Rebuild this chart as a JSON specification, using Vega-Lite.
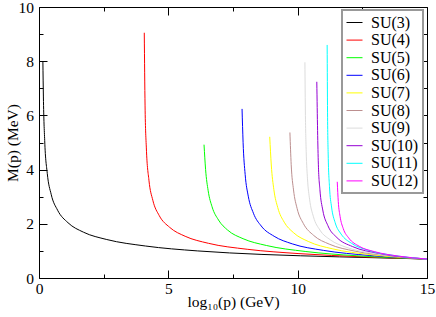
{
  "$schema": "https://vega.github.io/schema/vega-lite/v6.json",
  "width": 388,
  "height": 271,
  "autosize": {"type": "none"},
  "padding": {"left": 39, "top": 7, "right": 9, "bottom": 39},
  "background": "white",
  "config": {
    "view": {"stroke": "black", "strokeWidth": 1},
    "axis": {
      "domain": false,
      "grid": false,
      "labelFont": "Liberation Serif",
      "labelFontSize": 15.5,
      "labelColor": "black",
      "titleFont": "Liberation Serif",
      "titleFontSize": 15.5,
      "titleFontWeight": "normal",
      "titleColor": "black",
      "tickColor": "black",
      "tickWidth": 1,
      "labelFlush": false,
      "labelOverlap": false
    },
    "legend": {
      "labelFont": "Liberation Serif",
      "labelFontSize": 16,
      "labelColor": "black",
      "strokeWidth": 2
    }
  },
  "data": {
    "values": [
      {"s": "SU(3)", "x": 0.15, "y": 8.0},
      {"s": "SU(3)", "x": 0.17, "y": 6.68},
      {"s": "SU(3)", "x": 0.22, "y": 5.08},
      {"s": "SU(3)", "x": 0.32, "y": 3.86},
      {"s": "SU(3)", "x": 0.47, "y": 3.09},
      {"s": "SU(3)", "x": 0.72, "y": 2.5},
      {"s": "SU(3)", "x": 1.12, "y": 2.04},
      {"s": "SU(3)", "x": 1.72, "y": 1.69},
      {"s": "SU(3)", "x": 2.62, "y": 1.42},
      {"s": "SU(3)", "x": 4.12, "y": 1.18},
      {"s": "SU(3)", "x": 6.12, "y": 1.0},
      {"s": "SU(3)", "x": 8.62, "y": 0.87},
      {"s": "SU(3)", "x": 11.62, "y": 0.78},
      {"s": "SU(3)", "x": 15, "y": 0.7},

      {"s": "SU(4)", "x": 4.07, "y": 9.05},
      {"s": "SU(4)", "x": 4.1, "y": 6.38},
      {"s": "SU(4)", "x": 4.15, "y": 4.8},
      {"s": "SU(4)", "x": 4.25, "y": 3.61},
      {"s": "SU(4)", "x": 4.4, "y": 2.87},
      {"s": "SU(4)", "x": 4.65, "y": 2.3},
      {"s": "SU(4)", "x": 5.05, "y": 1.87},
      {"s": "SU(4)", "x": 5.65, "y": 1.54},
      {"s": "SU(4)", "x": 6.55, "y": 1.28},
      {"s": "SU(4)", "x": 8.05, "y": 1.06},
      {"s": "SU(4)", "x": 10.05, "y": 0.9},
      {"s": "SU(4)", "x": 12.55, "y": 0.78},
      {"s": "SU(4)", "x": 15, "y": 0.7},

      {"s": "SU(5)", "x": 6.38, "y": 4.92},
      {"s": "SU(5)", "x": 6.44, "y": 4.01},
      {"s": "SU(5)", "x": 6.54, "y": 3.22},
      {"s": "SU(5)", "x": 6.69, "y": 2.63},
      {"s": "SU(5)", "x": 6.94, "y": 2.14},
      {"s": "SU(5)", "x": 7.29, "y": 1.77},
      {"s": "SU(5)", "x": 7.89, "y": 1.45},
      {"s": "SU(5)", "x": 8.79, "y": 1.2},
      {"s": "SU(5)", "x": 10.29, "y": 0.98},
      {"s": "SU(5)", "x": 12.29, "y": 0.82},
      {"s": "SU(5)", "x": 15, "y": 0.7},

      {"s": "SU(6)", "x": 7.85, "y": 6.24},
      {"s": "SU(6)", "x": 7.89, "y": 5.01},
      {"s": "SU(6)", "x": 7.97, "y": 3.82},
      {"s": "SU(6)", "x": 8.09, "y": 3.02},
      {"s": "SU(6)", "x": 8.29, "y": 2.39},
      {"s": "SU(6)", "x": 8.59, "y": 1.92},
      {"s": "SU(6)", "x": 9.09, "y": 1.54},
      {"s": "SU(6)", "x": 9.79, "y": 1.26},
      {"s": "SU(6)", "x": 10.99, "y": 1.02},
      {"s": "SU(6)", "x": 12.79, "y": 0.83},
      {"s": "SU(6)", "x": 15, "y": 0.7},

      {"s": "SU(7)", "x": 8.92, "y": 5.21},
      {"s": "SU(7)", "x": 8.98, "y": 4.17},
      {"s": "SU(7)", "x": 9.08, "y": 3.26},
      {"s": "SU(7)", "x": 9.23, "y": 2.6},
      {"s": "SU(7)", "x": 9.48, "y": 2.06},
      {"s": "SU(7)", "x": 9.83, "y": 1.68},
      {"s": "SU(7)", "x": 10.43, "y": 1.34},
      {"s": "SU(7)", "x": 11.33, "y": 1.08},
      {"s": "SU(7)", "x": 12.83, "y": 0.86},
      {"s": "SU(7)", "x": 15, "y": 0.7},

      {"s": "SU(8)", "x": 9.7, "y": 5.37},
      {"s": "SU(8)", "x": 9.75, "y": 4.18},
      {"s": "SU(8)", "x": 9.84, "y": 3.25},
      {"s": "SU(8)", "x": 9.98, "y": 2.56},
      {"s": "SU(8)", "x": 10.22, "y": 2.01},
      {"s": "SU(8)", "x": 10.62, "y": 1.57},
      {"s": "SU(8)", "x": 11.22, "y": 1.25},
      {"s": "SU(8)", "x": 12.22, "y": 0.99},
      {"s": "SU(8)", "x": 13.62, "y": 0.81},
      {"s": "SU(8)", "x": 15, "y": 0.7},

      {"s": "SU(9)", "x": 10.28, "y": 7.96},
      {"s": "SU(9)", "x": 10.3, "y": 6.0},
      {"s": "SU(9)", "x": 10.33, "y": 4.67},
      {"s": "SU(9)", "x": 10.38, "y": 3.66},
      {"s": "SU(9)", "x": 10.46, "y": 2.91},
      {"s": "SU(9)", "x": 10.61, "y": 2.26},
      {"s": "SU(9)", "x": 10.86, "y": 1.77},
      {"s": "SU(9)", "x": 11.26, "y": 1.41},
      {"s": "SU(9)", "x": 11.86, "y": 1.14},
      {"s": "SU(9)", "x": 12.86, "y": 0.92},
      {"s": "SU(9)", "x": 14.26, "y": 0.76},
      {"s": "SU(9)", "x": 15, "y": 0.7},

      {"s": "SU(10)", "x": 10.74, "y": 7.24},
      {"s": "SU(10)", "x": 10.77, "y": 5.44},
      {"s": "SU(10)", "x": 10.8, "y": 4.2},
      {"s": "SU(10)", "x": 10.86, "y": 3.26},
      {"s": "SU(10)", "x": 10.97, "y": 2.51},
      {"s": "SU(10)", "x": 11.17, "y": 1.93},
      {"s": "SU(10)", "x": 11.52, "y": 1.49},
      {"s": "SU(10)", "x": 12.12, "y": 1.16},
      {"s": "SU(10)", "x": 13.12, "y": 0.91},
      {"s": "SU(10)", "x": 15, "y": 0.7},

      {"s": "SU(11)", "x": 11.14, "y": 8.6},
      {"s": "SU(11)", "x": 11.155, "y": 6.12},
      {"s": "SU(11)", "x": 11.18, "y": 4.54},
      {"s": "SU(11)", "x": 11.23, "y": 3.37},
      {"s": "SU(11)", "x": 11.31, "y": 2.62},
      {"s": "SU(11)", "x": 11.45, "y": 2.04},
      {"s": "SU(11)", "x": 11.68, "y": 1.62},
      {"s": "SU(11)", "x": 12.08, "y": 1.28},
      {"s": "SU(11)", "x": 12.73, "y": 1.02},
      {"s": "SU(11)", "x": 13.73, "y": 0.83},
      {"s": "SU(11)", "x": 15, "y": 0.7},

      {"s": "SU(12)", "x": 11.53, "y": 3.55},
      {"s": "SU(12)", "x": 11.57, "y": 2.82},
      {"s": "SU(12)", "x": 11.64, "y": 2.27},
      {"s": "SU(12)", "x": 11.76, "y": 1.83},
      {"s": "SU(12)", "x": 11.98, "y": 1.47},
      {"s": "SU(12)", "x": 12.38, "y": 1.17},
      {"s": "SU(12)", "x": 12.98, "y": 0.97},
      {"s": "SU(12)", "x": 13.88, "y": 0.81},
      {"s": "SU(12)", "x": 15, "y": 0.7}
    ]
  },
  "resolve": {"axis": {"x": "independent", "y": "independent"}},
  "layer": [
    {
      "mark": {"type": "line", "interpolate": "monotone", "strokeWidth": 1, "clip": true},
      "encoding": {
        "x": {
          "field": "x", "type": "quantitative",
          "scale": {"domain": [0, 15], "nice": false},
          "axis": {
            "orient": "bottom",
            "values": [0, 2.5, 5, 7.5, 10, 12.5, 15],
            "labelExpr": "datum.value % 5 === 0 ? datum.label : ''",
            "tickSize": {"condition": {"test": "datum.value % 5 !== 0", "value": -4}, "value": -8},
            "labelPadding": 11,
            "title": "log₁₀(p) (GeV)",
            "titleBaseline": "alphabetic",
            "titleY": 28
          }
        },
        "y": {
          "field": "y", "type": "quantitative",
          "scale": {"domain": [0, 10], "nice": false},
          "axis": {
            "orient": "left",
            "values": [0, 1, 2, 3, 4, 5, 6, 7, 8, 9, 10],
            "labelExpr": "datum.value % 2 === 0 ? datum.label : ''",
            "tickSize": {"condition": {"test": "datum.value % 2 !== 0", "value": -4}, "value": -8},
            "labelPadding": 13.5,
            "title": "M(p) (MeV)",
            "titleBaseline": "alphabetic",
            "titleX": -22
          }
        },
        "color": {
          "field": "s", "type": "nominal",
          "scale": {
            "domain": ["SU(3)", "SU(4)", "SU(5)", "SU(6)", "SU(7)", "SU(8)", "SU(9)", "SU(10)", "SU(11)", "SU(12)"],
            "range": ["#000000", "#ff0000", "#00ff00", "#0000ff", "#ffff00", "#bc8f8f", "#dcdcdc", "#9400d3", "#00ffff", "#ff00ff"]
          },
          "legend": {
            "title": null,
            "orient": "none",
            "legendX": 303,
            "legendY": 3,
            "symbolType": "stroke",
            "symbolSize": 256,
            "symbolStrokeWidth": 1,
            "labelOffset": 8,
            "labelLimit": 200,
            "padding": 4,
            "rowPadding": 0.6,
            "strokeColor": "#999999",
            "fillColor": "white"
          }
        }
      }
    },
    {
      "mark": {"type": "line", "opacity": 0},
      "encoding": {
        "x": {
          "field": "x", "type": "quantitative",
          "axis": {
            "orient": "top",
            "values": [0, 2.5, 5, 7.5, 10, 12.5, 15],
            "labels": false,
            "tickSize": {"condition": {"test": "datum.value % 5 !== 0", "value": -4}, "value": -8},
            "title": null
          }
        },
        "y": {
          "field": "y", "type": "quantitative",
          "axis": {
            "orient": "right",
            "values": [0, 1, 2, 3, 4, 5, 6, 7, 8, 9, 10],
            "labels": false,
            "tickSize": {"condition": {"test": "datum.value % 2 !== 0", "value": -4}, "value": -8},
            "title": null
          }
        },
        "detail": {"field": "s", "type": "nominal"}
      }
    }
  ]
}
